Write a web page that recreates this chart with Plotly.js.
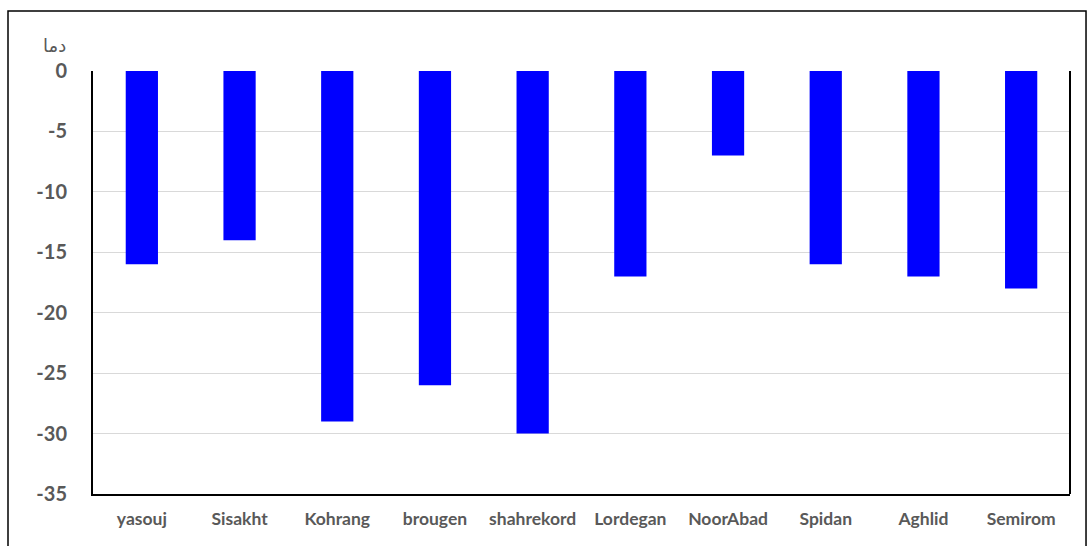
<!DOCTYPE html>
<html>
<head>
<meta charset="utf-8">
<script src="https://cdn.plot.ly/plotly-3.0.1.min.js"></script>
<style>html,body{margin:0;padding:0;background:#fff;}#chart{width:1091px;height:546px;}</style>
</head>
<body>
<div id="chart"></div>
<script>
const stations = ["yasouj","Sisakht","Kohrang","brougen","shahrekord","Lordegan","NoorAbad","Spidan","Aghlid","Semirom"];
const minTemp = [-16,-14,-29,-26,-30,-17,-7,-16,-17,-18];
const yTicks = [0,-5,-10,-15,-20,-25,-30,-35];
const yLabel = "دما";

const trace = {
  type: "bar",
  x: stations,
  y: minTemp,
  marker: {color: "#0000FF"},
  hoverinfo: "x+y"
};

const layout = {
  width: 1091, height: 546,
  margin: {l: 93, r: 21, t: 71, b: 52},
  paper_bgcolor: "#fff", plot_bgcolor: "#fff",
  bargap: 0.67,
  showlegend: false,
  font: {family: "Lato, 'Open Sans', sans-serif", color: "#595959"},
  xaxis: {
    type: "category",
    showgrid: false,
    showline: true, linecolor: "#000", linewidth: 2,
    ticks: "",
    tickfont: {size: 17.5, color: "#595959", family: "Lato, sans-serif", weight: "bold"},
    ticklabelstandoff: 8
  },
  yaxis: {
    range: [-35, 0],
    tickvals: yTicks,
    ticktext: yTicks.map(String),
    showgrid: true, gridcolor: "#D9D9D9", gridwidth: 1,
    showline: true, linecolor: "#000", linewidth: 2,
    mirror: false,
    zeroline: false,
    ticks: "",
    tickfont: {size: 20, color: "#595959", family: "Lato, sans-serif", weight: "bold"},
    ticklabelstandoff: 20
  },
  shapes: [
    {type: "line", xref: "paper", yref: "paper", x0: 1, x1: 1, y0: 0, y1: 1, line: {color: "#000", width: 2}},
    {type: "rect", xref: "paper", yref: "paper", x0: -0.087, x1: 1.0164, y0: -0.2, y1: 1.1418, line: {color: "#000", width: 1.5}, fillcolor: "rgba(0,0,0,0)"}
  ],
  annotations: [
    {xref: "paper", yref: "paper", x: -0.0389, y: 1.062, xanchor: "center", yanchor: "middle", showarrow: false,
     text: yLabel, font: {size: 18, color: "#595959", family: "'Noto Sans', 'DejaVu Sans', sans-serif"}}
  ]
};

Plotly.newPlot("chart", [trace], layout, {displayModeBar: false, staticPlot: true});
</script>
</body>
</html>
